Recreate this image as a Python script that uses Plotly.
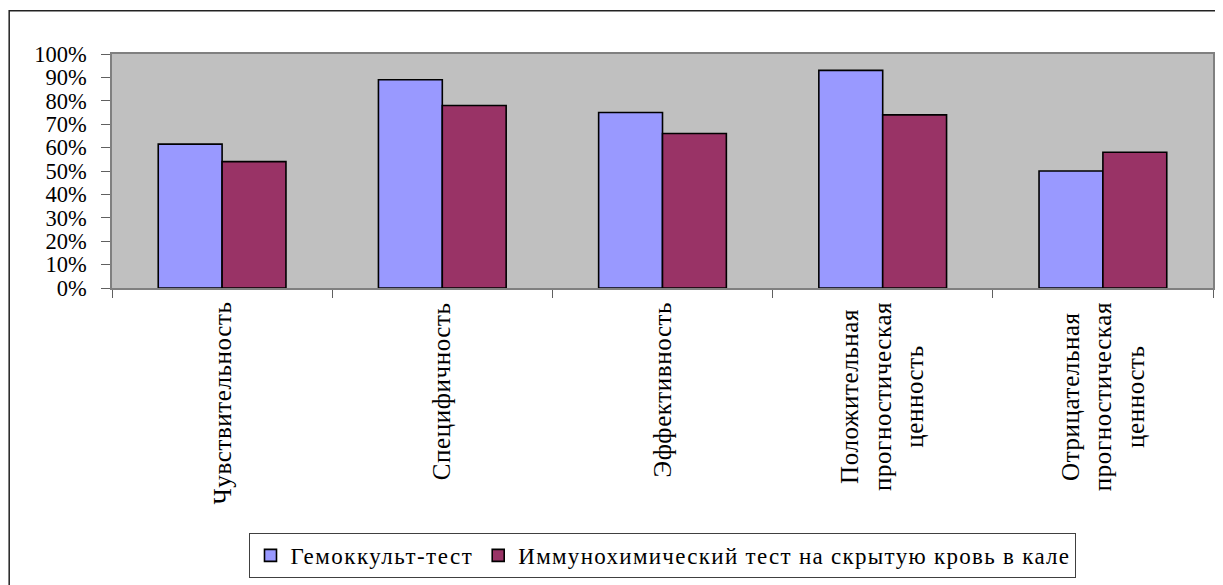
import plotly.graph_objects as go

categories = ["Чувствительность", "Специфичность", "Эффективность",
              "Положительная прогностическая ценность",
              "Отрицательная прогностическая ценность"]
category_labels = ["Чувствительность", "Специфичность", "Эффективность",
                   "Положительная<br>прогностическая<br>ценность",
                   "Отрицательная<br>прогностическая<br>ценность"]
series_names = ["Гемоккульт-тест", "Иммунохимический тест на скрытую кровь в кале"]
gemoccult = [61.5, 89, 75, 93, 50]
immuno = [54, 78, 66, 74, 58]
y_ticks = [0, 10, 20, 30, 40, 50, 60, 70, 80, 90, 100]
y_tick_labels = ["0%", "10%", "20%", "30%", "40%", "50%", "60%", "70%", "80%", "90%", "100%"]

FONT = "Liberation Serif"
OFF = 8  # page body margin
W, H = 1223 - OFF, 585 - OFF
# plot area in page pixels: x 112..1215, y 54..290
ML = 112 - OFF
MR = W - (1215 - OFF)
MT = 54 - OFF
MB = H - (290 - OFF)
PW = W - ML - MR
PH = H - MT - MB


def px_to_paper_x(px):
    return (px - OFF - ML) / PW


def px_to_paper_y(py):
    return (H - MB - (py - OFF)) / PH


def spaced(text, sp):
    return '<span style="letter-spacing:%spx">%s</span>' % (sp, text)


fig = go.Figure()
fig.add_trace(go.Bar(x=categories, y=gemoccult, name=spaced(series_names[0], 1.5),
                     marker=dict(color="#9999FF", line=dict(color="black", width=1.6))))
fig.add_trace(go.Bar(x=categories, y=immuno, name=spaced(series_names[1], 1.3),
                     marker=dict(color="#993366", line=dict(color="black", width=1.6))))

annotations = []
for cat, lab in zip(categories, category_labels):
    lines = lab.split("<br>")
    txt = "<br>".join(spaced(l, 0.6) for l in lines)
    annotations.append(dict(x=cat, xref="x", y=px_to_paper_y(302), yref="paper",
                            text=txt, showarrow=False, textangle=-90,
                            xanchor="center", yanchor="top", align="center",
                            font=dict(family=FONT, size=25, color="black")))

fig.update_layout(
    width=W, height=H,
    margin=dict(l=ML, r=MR, t=MT, b=MB),
    paper_bgcolor="white",
    plot_bgcolor="#C0C0C0",
    barmode="group",
    bargap=0.42,
    bargroupgap=0,
    font=dict(family=FONT, size=23, color="black"),
    showlegend=True,
    legend=dict(orientation="h", x=px_to_paper_x(664), xanchor="center",
                y=px_to_paper_y(537), yanchor="top",
                bordercolor="#404040", borderwidth=1, bgcolor="white",
                font=dict(family=FONT, size=23, color="black"),
                itemwidth=30, traceorder="normal"),
    annotations=annotations,
    shapes=[dict(type="rect", xref="paper", yref="paper",
                 x0=px_to_paper_x(9), x1=px_to_paper_x(1222),
                 y0=px_to_paper_y(600), y1=px_to_paper_y(10.5),
                 line=dict(color="#222222", width=1.5), fillcolor="rgba(0,0,0,0)",
                 layer="below")],
)
fig.update_xaxes(type="category", showticklabels=False, ticks="outside",
                 tickson="boundaries", ticklen=8, tickcolor="#606060", tickwidth=1,
                 showline=True, linecolor="#808080", linewidth=1.5, mirror=True,
                 showgrid=False, zeroline=False)
fig.update_yaxes(range=[0, 100], tickvals=y_ticks, ticktext=y_tick_labels,
                 ticks="outside", ticklen=9, tickcolor="#606060", tickwidth=1,
                 ticklabelstandoff=10,
                 showline=True, linecolor="#808080", linewidth=1.5, mirror=True,
                 showgrid=False, zeroline=False,
                 tickfont=dict(family=FONT, size=22.5, color="black"))

fig.write_html("out.html")
